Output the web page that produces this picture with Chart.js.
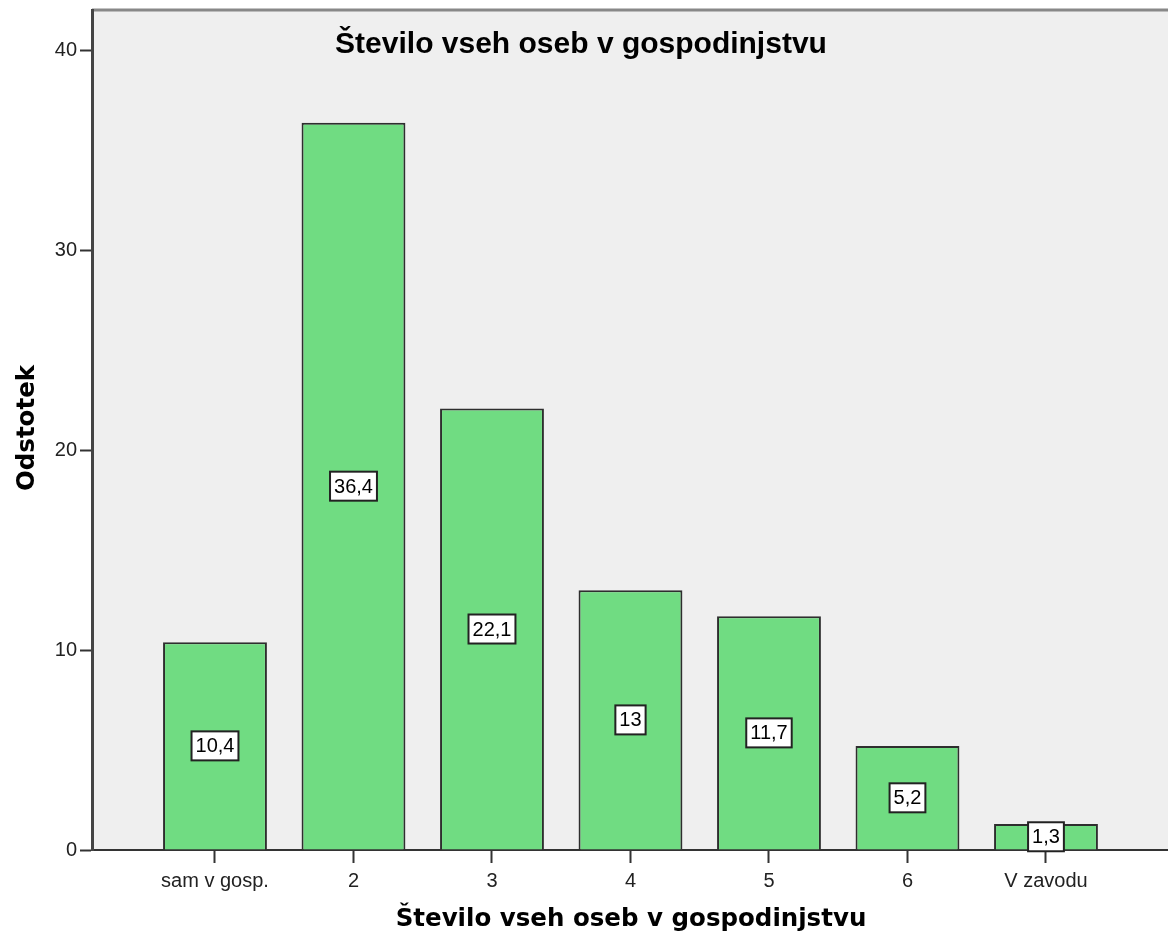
<!DOCTYPE html>
<html>
<head>
<meta charset="utf-8">
<script src="https://cdn.jsdelivr.net/npm/chart.js@4.4.1/dist/chart.umd.min.js"></script>
<style>
  html, body { margin: 0; padding: 0; background: #fff; }
  #wrap { width: 1168px; height: 937px; }
</style>
</head>
<body>
<div id="wrap"><canvas id="chart" width="1168" height="937"></canvas></div>
<script>
  // chart data
  const categories = ['sam v gosp.', '2', '3', '4', '5', '6', 'V zavodu'];
  const percents = [10.4, 36.4, 22.1, 13, 11.7, 5.2, 1.3];
  const yTicks = [0, 10, 20, 30, 40];

  const chartTitle = 'Število vseh oseb v gospodinjstvu';
  const xTitle = 'Število vseh oseb v gospodinjstvu';
  const yTitle = 'Odstotek';

  // plot background + top frame line
  const plotBackground = {
    id: 'plotBackground',
    beforeDraw(chart) {
      const { ctx, chartArea: a } = chart;
      ctx.save();
      ctx.fillStyle = '#efefef';
      ctx.fillRect(a.left, a.top, a.right - a.left, a.bottom - a.top);
      ctx.strokeStyle = '#888888';
      ctx.lineWidth = 3;
      ctx.beginPath();
      ctx.moveTo(a.left, a.top);
      ctx.lineTo(a.right, a.top);
      ctx.stroke();
      ctx.restore();
    }
  };

  // titles
  const titles = {
    id: 'titles',
    afterDraw(chart) {
      const { ctx } = chart;
      ctx.save();
      ctx.fillStyle = '#000';
      ctx.textAlign = 'center';
      ctx.textBaseline = 'alphabetic';
      ctx.font = 'bold 30px "Liberation Sans", Arial, sans-serif';
      ctx.fillText(chartTitle, 581, 53);

      ctx.font = 'bold 24.5px "DejaVu Sans", Verdana, sans-serif';
      ctx.fillText(xTitle, 631, 926);

      ctx.translate(28, 428);
      ctx.rotate(-Math.PI / 2);
      ctx.textBaseline = 'middle';
      ctx.fillText(yTitle, 0, 0);
      ctx.restore();
    }
  };

  // value boxes in the middle of every bar
  const valueBoxes = {
    id: 'valueBoxes',
    afterDraw(chart) {
      const { ctx } = chart;
      const meta = chart.getDatasetMeta(0);
      ctx.save();
      ctx.font = '20px "Liberation Sans", Arial, sans-serif';
      ctx.textAlign = 'center';
      ctx.textBaseline = 'middle';
      meta.data.forEach((bar, i) => {
        const text = String(percents[i]).replace('.', ',');
        const cy = (bar.y + bar.base) / 2;
        const w = ctx.measureText(text).width + 8;
        const h = 29;
        ctx.fillStyle = '#ffffff';
        ctx.fillRect(bar.x - w / 2, cy - h / 2, w, h);
        ctx.strokeStyle = '#222222';
        ctx.lineWidth = 2;
        ctx.strokeRect(bar.x - w / 2, cy - h / 2, w, h);
        ctx.fillStyle = '#000';
        ctx.fillText(text, bar.x, cy + 1);
      });
      ctx.restore();
    }
  };

  const ctx = document.getElementById('chart').getContext('2d');
  new Chart(ctx, {
    type: 'bar',
    data: {
      datasets: [{
        data: percents.map((v, i) => ({ x: i + 1, y: v })),
        backgroundColor: '#70dc82',
        borderColor: '#2e2e2e',
        borderWidth: 2,
        borderSkipped: 'bottom',
        barPercentage: 1,
        categoryPercentage: 0.75
      }]
    },
    options: {
      responsive: false,
      animation: false,
      layout: { padding: { top: 10, right: 0, left: 0, bottom: 0 } },
      plugins: {
        legend: { display: false },
        tooltip: { enabled: false }
      },
      scales: {
        x: {
          type: 'linear',
          offset: false,
          min: 0.112,
          max: 7.881,
          afterFit: (scale) => {
            scale.height = 87;
            scale.paddingLeft = 0;
            scale.paddingRight = 0;
          },
          afterBuildTicks: (scale) => {
            scale.ticks = categories.map((c, i) => ({ value: i + 1 }));
          },
          ticks: {
            autoSkip: false,
            maxRotation: 0,
            padding: 6,
            color: '#222',
            font: { family: '"Liberation Sans", Arial, sans-serif', size: 20 },
            callback: (v) => categories[Math.round(v) - 1]
          },
          grid: {
            display: true,
            offset: false,
            drawOnChartArea: false,
            drawTicks: true,
            tickLength: 13,
            tickColor: '#333',
            tickWidth: 2
          },
          border: { display: true, color: '#333', width: 2 }
        },
        y: {
          min: 0,
          max: 42.05,
          afterFit: (scale) => {
            scale.width = 92;
            scale.paddingTop = 0;
            scale.paddingBottom = 0;
          },
          afterBuildTicks: (scale) => {
            scale.ticks = yTicks.map(v => ({ value: v }));
          },
          ticks: {
            padding: 3,
            color: '#222',
            font: { family: '"Liberation Sans", Arial, sans-serif', size: 20 }
          },
          grid: {
            display: true,
            drawOnChartArea: false,
            drawTicks: true,
            tickLength: 12,
            tickColor: '#333',
            tickWidth: 2
          },
          border: { display: true, color: '#444', width: 3 }
        }
      }
    },
    plugins: [plotBackground, valueBoxes, titles]
  });
</script>
</body>
</html>
